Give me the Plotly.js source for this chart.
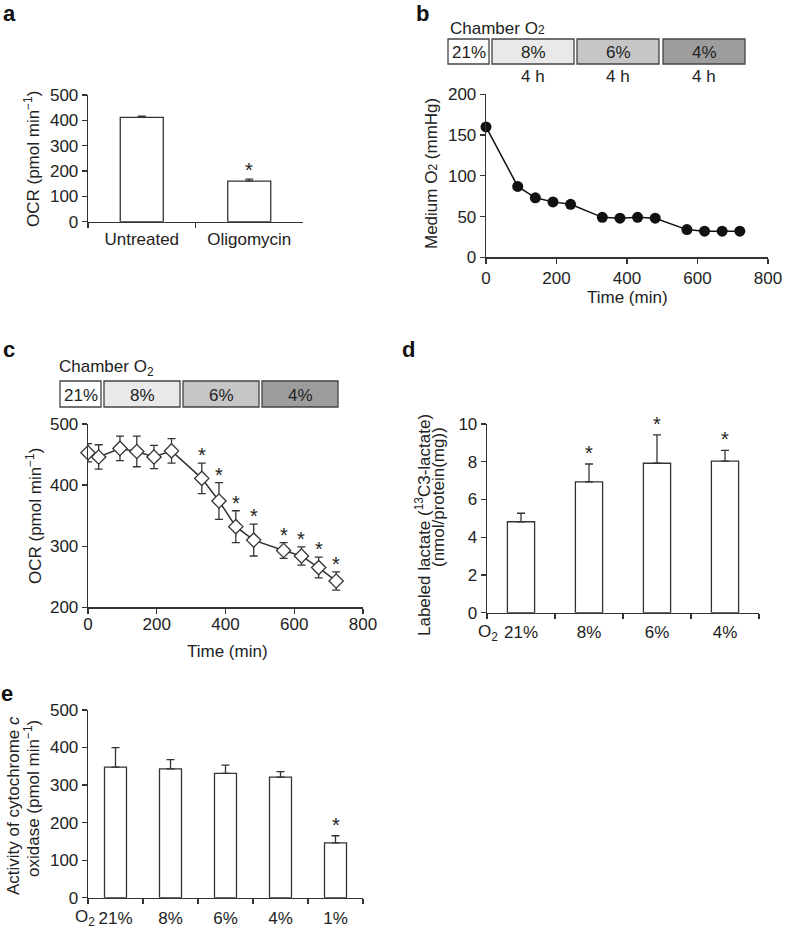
<!DOCTYPE html>
<html>
<head>
<meta charset="utf-8">
<script src="https://cdn.plot.ly/plotly-3.0.1.min.js"></script>
<style>
  body { margin: 0; background: #fff; }
  #fig { width: 786px; height: 932px; }
</style>
</head>
<body>
<div id="fig"></div>
<script>
// panel a - OCR untreated vs oligomycin
const aLabels = ['Untreated', 'Oligomycin'];
const aMeans = [412, 160];
const aErr = [5, 8];
const aSig = [false, true];

// panel b - medium O2 over time
const bTime = [0, 90, 140, 190, 240, 330, 380, 430, 480, 570, 620, 670, 720];
const bO2 = [160, 87, 73, 68, 65, 49, 48, 49, 48, 34, 32, 32, 32];

// panel c - OCR over time
const cTime = [0, 31, 93, 142, 192, 243, 331, 381, 430, 482, 569, 621, 671, 722];
const cOCR = [453, 446, 460, 455, 446, 456, 411, 374, 332, 310, 293, 284, 265, 243];
const cErr = [15, 20, 20, 25, 19, 20, 25, 30, 26, 26, 13, 15, 17, 15];
const cSig = [false, false, false, false, false, false, true, true, true, true, true, true, true, true];

// panel d - labeled lactate
const dLabels = ['21%', '8%', '6%', '4%'];
const dMeans = [4.82, 6.93, 7.92, 8.03];
const dErr = [0.45, 0.95, 1.5, 0.57];
const dSig = [false, true, true, true];

// panel e - cytochrome c oxidase activity
const eLabels = ['21%', '8%', '6%', '4%', '1%'];
const eMeans = [348, 343, 331, 321, 146];
const eErr = [52, 25, 22, 15, 19];
const eSig = [false, false, false, false, true];

// chamber O2 header
const chamberLevels = ['21%', '8%', '6%', '4%'];
const chamberFill = ['#ffffff', '#e9e9e9', '#c6c6c6', '#9d9d9d'];
const chamberDur = ['', '4 h', '4 h', '4 h'];

const W = 786, H = 932;
const ink = '#333';
const txt = '#222';
const FONT = 'Liberation Sans, Arial, Helvetica, sans-serif';
function fx(p) { return p / W; }
function fy(p) { return 1 - p / H; }

function axisBase(extra) {
    return Object.assign({
        showline: true, linecolor: ink, linewidth: 1.3,
        ticks: 'outside', ticklen: 5, tickwidth: 1.3, tickcolor: ink,
        showgrid: false, zeroline: false, fixedrange: true,
        tickfont: {size: 17, color: txt}
    }, extra);
}

function barTrace(labels, means, err, xa, ya) {
    return {
        type: 'bar', x: labels, y: means, width: 0.4,
        xaxis: xa, yaxis: ya,
        marker: {color: '#fff', line: {color: ink, width: 1.3}},
        error_y: {type: 'data', symmetric: false, array: err,
                  arrayminus: err.map(() => 0),
                  color: ink, thickness: 1.3, width: 4},
        hoverinfo: 'skip'
    };
}

const data = [
    barTrace(aLabels, aMeans, aErr, 'x', 'y'),
    {
        type: 'scatter', mode: 'lines+markers', x: bTime, y: bO2,
        xaxis: 'x2', yaxis: 'y2', cliponaxis: false,
        line: {color: '#111', width: 1.5},
        marker: {symbol: 'circle', size: 11, color: '#111'}
    },
    {
        type: 'scatter', mode: 'lines+markers', x: cTime, y: cOCR,
        xaxis: 'x3', yaxis: 'y3', cliponaxis: false,
        line: {color: ink, width: 1.5},
        marker: {symbol: 'diamond', size: 11, color: '#fff', line: {color: ink, width: 1.3}},
        error_y: {type: 'data', array: cErr, color: ink, thickness: 1.3, width: 4}
    },
    barTrace(dLabels, dMeans, dErr, 'x4', 'y4'),
    barTrace(eLabels, eMeans, eErr, 'x5', 'y5')
];

const annotations = [];
const shapes = [];

function note(text, px, py, opts) {
    annotations.push(Object.assign({
        text: text, xref: 'paper', yref: 'paper', x: fx(px), y: fy(py),
        xanchor: 'center', yanchor: 'middle', showarrow: false,
        font: {size: 17, color: txt, family: FONT}
    }, opts || {}));
}

// panel letters
note('<b>a</b>', 9, 13, {font: {size: 22, color: '#111', family: FONT}});
note('<b>b</b>', 423, 13, {font: {size: 22, color: '#111', family: FONT}});
note('<b>c</b>', 9, 349, {font: {size: 22, color: '#111', family: FONT}});
note('<b>d</b>', 408, 350, {font: {size: 22, color: '#111', family: FONT}});
note('<b>e</b>', 7, 693, {font: {size: 22, color: '#111', family: FONT}});

// axis titles
note('OCR (pmol min<sup>−1</sup>)', 32, 159, {textangle: -90});
note('Medium O<span style="font-size:12px">2</span> (mmHg)', 431, 174, {textangle: -90});
note('Time (min)', 627, 297);
note('OCR (pmol min<sup>−1</sup>)', 34, 516, {textangle: -90});
note('Time (min)', 227, 651);
note('Labeled lactate (<sup>13</sup>C3-lactate)', 423, 525, {textangle: -90});
note('(nmol/protein(mg))', 439, 497, {textangle: -90});
note('Activity of cytochrome <i>c</i>', 13, 806, {textangle: -90});
note('oxidase (pmol min<sup>−1</sup>)', 32, 799, {textangle: -90});
note('O<sub>2</sub>', 488, 633);
note('O<sub>2</sub>', 85, 918);

// chamber O2 header boxes
function chamber(title, tx, ty, edges, top, bottom, withDur) {
    note(title, tx, ty, {xanchor: 'left'});
    chamberLevels.forEach((lv, i) => {
        shapes.push({
            type: 'rect', xref: 'paper', yref: 'paper',
            x0: fx(edges[i][0]), x1: fx(edges[i][1]), y0: fy(bottom), y1: fy(top),
            fillcolor: chamberFill[i], line: {color: '#444', width: 1.3}
        });
        const cx = (edges[i][0] + edges[i][1]) / 2;
        note(lv, cx, (top + bottom) / 2 + 1);
        if (withDur && chamberDur[i]) note(chamberDur[i], cx, bottom + 13);
    });
}
chamber('Chamber O<span style="font-size:12px">2</span>', 448, 28,
        [[448, 489], [492, 574], [577, 659], [663, 745]], 39, 64, true);
chamber('Chamber O<sub>2</sub>', 57, 368,
        [[60, 101], [104, 180], [183, 259], [262, 338]], 381, 407, false);

// significance asterisks above error bars
function stars(xs, means, err, sig, xa, ya, gap) {
    xs.forEach((x, i) => {
        if (!sig[i]) return;
        annotations.push({
            text: '*', xref: xa, yref: ya, x: x, y: means[i] + err[i],
            xanchor: 'center', yanchor: 'middle', yshift: gap - 4,
            showarrow: false, font: {size: 20, color: txt, family: FONT}
        });
    });
}
stars(aLabels, aMeans, aErr, aSig, 'x', 'y', 13);
stars(cTime, cOCR, cErr, cSig, 'x3', 'y3', 12);
stars(dLabels, dMeans, dErr, dSig, 'x4', 'y4', 15);
stars(eLabels, eMeans, eErr, eSig, 'x5', 'y5', 15);

const layout = {
    width: W, height: H,
    margin: {l: 0, r: 0, t: 0, b: 0},
    paper_bgcolor: '#fff', plot_bgcolor: 'rgba(0,0,0,0)',
    showlegend: false,
    font: {family: FONT, color: txt, size: 17},
    xaxis: axisBase({domain: [fx(88), fx(303)], anchor: 'y', type: 'category',
                     range: [-0.5, 1.5], tickson: 'boundaries', ticklabelstandoff: 2}),
    yaxis: axisBase({domain: [fy(221.7), fy(95)], anchor: 'x', range: [0, 500], dtick: 100}),
    xaxis2: axisBase({domain: [fx(486), fx(768)], anchor: 'y2', range: [0, 800], dtick: 200}),
    yaxis2: axisBase({domain: [fy(257.3), fy(94.3)], anchor: 'x2', range: [0, 200], dtick: 50}),
    xaxis3: axisBase({domain: [fx(88), fx(363)], anchor: 'y3', range: [0, 800], dtick: 200,
                      ticklabelstandoff: -4}),
    yaxis3: axisBase({domain: [fy(607.3), fy(424)], anchor: 'x3', range: [200, 500], dtick: 100}),
    xaxis4: axisBase({domain: [fx(487), fx(759)], anchor: 'y4', type: 'category',
                      range: [-0.5, 3.5], tickson: 'boundaries', ticklabelstandoff: 4}),
    yaxis4: axisBase({domain: [fy(612.7), fy(424)], anchor: 'x4', range: [0, 10], dtick: 2}),
    xaxis5: axisBase({domain: [fx(88), fx(363)], anchor: 'y5', type: 'category',
                      range: [-0.5, 4.5], tickson: 'boundaries', ticklabelstandoff: 5}),
    yaxis5: axisBase({domain: [fy(897.7), fy(710)], anchor: 'x5', range: [0, 500], dtick: 100}),
    annotations: annotations,
    shapes: shapes
};

Plotly.newPlot('fig', data, layout, {displayModeBar: false, staticPlot: true});
</script>
</body>
</html>
